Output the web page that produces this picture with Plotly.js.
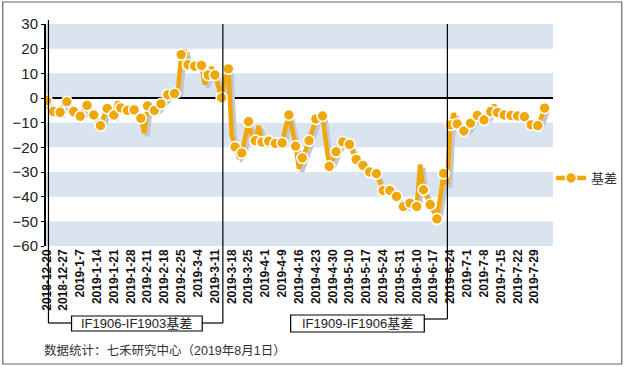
<!DOCTYPE html>
<html>
<head>
<meta charset="utf-8">
<script src="https://cdn.plot.ly/plotly-3.0.1.min.js"></script>
<style>html,body{margin:0;padding:0;background:#fff;}#chart{width:635px;height:367px;}</style>
</head>
<body>
<div id="chart"></div>
<script>
// Week tick labels (every 5 trading days)
const tickLabels = ['2018-12-20','2018-12-27','2019-1-7','2019-1-14','2019-1-21','2019-1-28','2019-2-11','2019-2-18','2019-2-25','2019-3-4','2019-3-11','2019-3-18','2019-3-25','2019-4-1','2019-4-9','2019-4-16','2019-4-23','2019-4-30','2019-5-10','2019-5-17','2019-5-24','2019-5-31','2019-6-10','2019-6-17','2019-6-24','2019-7-1','2019-7-8','2019-7-15','2019-7-22','2019-7-29'];
// Daily basis values (trading days 2018-12-20 .. 2019-8-1)
const basis = [
 -1,-4.5,-5.5,-6,-5.8,-3,-1.5,-4,-5.5,-7,
 -7.4,-5,-3,-5,-6.9,-9.5,-11.2,-7.5,-4.2,-6,
 -6.9,-1.5,-4,-4.5,-5,-5,-4.8,-6,-8.2,-14.3,
 -3.2,-4,-5,-4,-2.4,-0.5,1.3,1.5,1.8,2.5,
 17.6,19.5,13.5,13,12.9,13,13.2,5.5,9.3,12.5,
 9.3,5,0.1,8,11.8,-15,-19.8,-23.5,-22.3,-16,
 -9.6,-16,-17.3,-11.3,-17.9,-18,-17.5,-17.5,-18.4,-18.5,
 -18.2,-12,-6.9,-13,-19.5,-28.6,-24.3,-21,-17.3,-12,
 -8.5,-7,-7.3,-18,-27.7,-25,-21.8,-19,-17.8,-18,
 -18.8,-21.5,-24.9,-26,-27.3,-29,-30,-30.5,-30.7,-34,
 -37.5,-37.5,-37.5,-38.5,-39.9,-42,-44,-43.5,-42.6,-43,
 -44,-27,-37.2,-40,-43.2,-46,-49,-40,-30.6,-35,
 -10.9,-6.2,-10.5,-12,-13.4,-12.5,-10.2,-8.5,-7.1,-8,
 -8.9,-7.5,-5.5,-2.8,-5.9,-6.4,-6.9,-7,-7.1,-7.2,
 -7.3,-7.4,-7.6,-9.5,-10.9,-11.5,-11.2,-8,-4.1
];
const seriesName = '基差';
const boxLabels = ['IF1906-IF1903基差','IF1909-IF1906基差'];
const sourceText = '数据统计：七禾研究中心（2019年8月1日）';
const yTicks = [30,20,10,0,-10,-20,-30,-40,-50,-60];

const idx = basis.map((v,i)=>i);
const mIdx = idx.filter(i=>i%2===0);
const mVal = mIdx.map(i=>basis[i]);

const ORANGE = '#F0A70A';
const FONT = 'Liberation Sans, Arial, Noto Sans CJK SC, sans-serif';

// pixel -> paper helpers
const L=46, R=562, T=24, B=246;
const px = p => (p-L)/(R-L);
const py = p => (B-p)/(B-T);

const traces = [
 {x: idx.map(i=>i+0.9), y: basis.map(v=>v-1.25), mode:'lines', line:{color:'#c3c7ce', width:4.5}, hoverinfo:'skip', showlegend:false},
 {x: idx, y: basis, mode:'lines', line:{color:ORANGE, width:4.5}, showlegend:false},
 {x: mIdx, y: mVal, mode:'markers', marker:{color:ORANGE, size:11, line:{color:'#ffffff', width:1.6}}, showlegend:false},
 {x:[null], y:[null], mode:'lines+markers', name:seriesName, line:{color:ORANGE, width:4.5}, marker:{color:ORANGE, size:11, line:{color:'#ffffff', width:1.6}}, showlegend:true}
];

const shapes = [];
// bands
for (let k=0;k<5;k++){
  const top = 30 - k*20;
  shapes.push({type:'rect', xref:'paper', yref:'y', x0:0, x1:1, y0:top-10, y1:top, fillcolor:'#dae4ef', line:{width:0}, layer:'below'});
}
const ln = (x0,y0,x1,y1,w)=>({type:'line', xref:'paper', yref:'paper', x0:px(x0), y0:py(y0), x1:px(x1), y1:py(y1), line:{color:'#000', width:w||1.2}, layer:'above'});
// bracket 1
shapes.push(ln(48.5,20,48.5,323));
shapes.push(ln(48.5,323,72,323));
shapes.push({type:'rect', xref:'paper', yref:'paper', x0:px(72), x1:px(205), y0:py(331), y1:py(316), line:{color:'#000', width:1.2}, fillcolor:'#fff', layer:'above'});
shapes.push(ln(205,323,226,323));
shapes.push(ln(226,323,226,24));
// bracket 2
shapes.push({type:'rect', xref:'paper', yref:'paper', x0:px(295), x1:px(431), y0:py(332), y1:py(315), line:{color:'#000', width:1.2}, fillcolor:'#fff', layer:'above'});
shapes.push(ln(431,319,454.5,319));
shapes.push(ln(454.5,319,454.5,24));
// outer border
shapes.push({type:'rect', xref:'paper', yref:'paper', x0:px(2), x1:px(632), y0:py(364), y1:py(2), line:{color:'#666', width:1.2}, layer:'above'});

const annotations = [
 {xref:'paper', yref:'paper', x:px(138.5), y:py(323.5), text:boxLabels[0], showarrow:false, font:{family:FONT, size:13, color:'#222'}, xanchor:'center', yanchor:'middle'},
 {xref:'paper', yref:'paper', x:px(363), y:py(323.5), text:boxLabels[1], showarrow:false, font:{family:FONT, size:13, color:'#222'}, xanchor:'center', yanchor:'middle'},
 {xref:'paper', yref:'paper', x:px(42), y:py(350), text:sourceText, showarrow:false, font:{family:FONT, size:12.5, color:'#333'}, xanchor:'left', yanchor:'middle'}
];

const layout = {
  width:635, height:367,
  margin:{l:L, r:635-R, t:T, b:367-B, pad:0},
  paper_bgcolor:'#fff', plot_bgcolor:'#fff',
  font:{family:FONT, color:'#222'},
  xaxis:{range:[-0.2,150.5], tickvals:tickLabels.map((d,i)=>i*5), ticktext:tickLabels, tickangle:-90,
         tickfont:{family:FONT, size:12, color:'#111', weight:'bold'}, showgrid:false, zeroline:false, showline:false, ticks:'', fixedrange:true},
  yaxis:{range:[-60,30], tickvals:yTicks, tickfont:{family:FONT, size:15, color:'#222'}, showgrid:false,
         zeroline:true, zerolinecolor:'#000', zerolinewidth:1.2, showline:true, linecolor:'#000', linewidth:2,
         ticks:'outside', ticklen:3, tickcolor:'#000', fixedrange:true},
  showlegend:true,
  legend:{x:px(560), y:py(178), xanchor:'left', yanchor:'middle', bgcolor:'rgba(0,0,0,0)', font:{family:FONT, size:13, color:'#333'}},
  shapes:shapes, annotations:annotations
};
Plotly.newPlot('chart', traces, layout, {displayModeBar:false, staticPlot:true});
</script>
</body>
</html>
